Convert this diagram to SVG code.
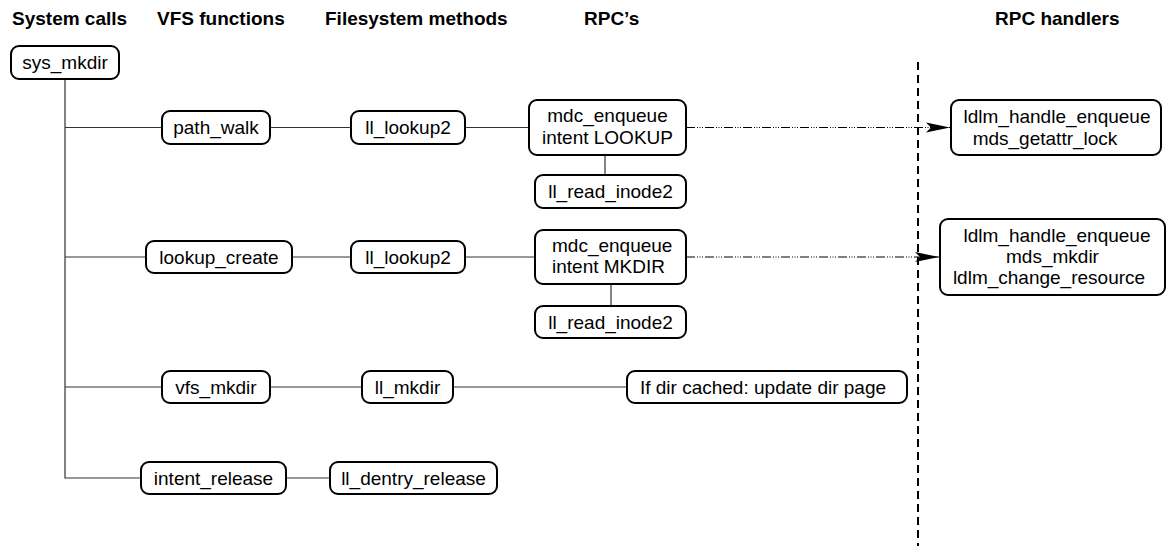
<svg xmlns="http://www.w3.org/2000/svg" width="1166" height="548" viewBox="0 0 1166 548">
<style>
.hdr{font-family:"Liberation Sans",Arial,sans-serif;font-size:19px;font-weight:bold;fill:#000}
.t{font-family:"Liberation Sans",Arial,sans-serif;font-size:19px;fill:#000}
.c{text-anchor:middle}
.box{fill:#fff;stroke:#000;stroke-width:2}
.ln{fill:none;stroke:#333;stroke-width:1.2}
.dash{fill:none;stroke:#000;stroke-width:1;stroke-dasharray:9 2 1 1.5 1 1.5 1 2}
.sep{fill:none;stroke:#000;stroke-width:2;stroke-dasharray:8 5}
</style>
<defs>
<marker id="arr" markerWidth="25" markerHeight="12" refX="24" refY="6" orient="auto" markerUnits="userSpaceOnUse">
<path d="M0,1 L24,6 L0,11 L5,6 Z" fill="#000"/>
</marker>
</defs>
<rect width="1166" height="548" fill="#fff"/>
<g id="headers">
<text class="hdr" x="12" y="25">System calls</text>
<text class="hdr" x="157" y="25">VFS functions</text>
<text class="hdr" x="325" y="25">Filesystem methods</text>
<text class="hdr" x="584" y="25">RPC’s</text>
<text class="hdr" x="995" y="25">RPC handlers</text>
</g>
<g id="connectors">
<path class="ln" d="M65,79 V478 H141"/>
<path class="ln" d="M65,127.5 H162 M270,127.5 H351 M465,127.5 H529"/>
<path class="ln" d="M65,257 H146 M292,257 H351 M465,257 H535"/>
<path class="ln" d="M65,387 H162 M270,387 H362 M453,387 H627"/>
<path class="ln" d="M286,478 H330"/>
<path class="ln" d="M605,155 V175 M611,284 V306"/>
<path class="dash" d="M686,127.5 H950" marker-end="url(#arr)"/>
<path class="dash" d="M686,257 H939" marker-end="url(#arr)"/>
<path class="sep" d="M918,62 V546"/>
</g>
<g id="sys_mkdir"><rect class="box" x="11" y="46" width="108" height="33" rx="8"/><text class="t c" x="65" y="69">sys_mkdir</text></g>
<g id="path_walk"><rect class="box" x="162" y="111" width="108" height="33" rx="8"/><text class="t c" x="216" y="134">path_walk</text></g>
<g id="ll_lookup2_a"><rect class="box" x="351" y="111" width="114" height="33" rx="8"/><text class="t c" x="408" y="134">ll_lookup2</text></g>
<g id="mdc_lookup"><rect class="box" x="529" y="100" width="157" height="55" rx="8"/><text class="t c" x="607.5" y="122">mdc_enqueue</text><text class="t c" x="607.5" y="144">intent LOOKUP</text></g>
<g id="ll_read_inode2_a"><rect class="box" x="535" y="175" width="151" height="33" rx="8"/><text class="t c" x="610.5" y="198">ll_read_inode2</text></g>
<g id="handler_a"><rect class="box" x="951" y="100" width="210" height="55" rx="8"/><text class="t c" x="1057" y="123">ldlm_handle_enqueue</text><text class="t c" x="1045" y="145">mds_getattr_lock</text></g>
<g id="lookup_create"><rect class="box" x="146" y="241" width="146" height="32" rx="8"/><text class="t c" x="219" y="263.5">lookup_create</text></g>
<g id="ll_lookup2_b"><rect class="box" x="351" y="241" width="114" height="32" rx="8"/><text class="t c" x="408" y="263.5">ll_lookup2</text></g>
<g id="mdc_mkdir"><rect class="box" x="535" y="230" width="151" height="54" rx="8"/><text class="t" x="552" y="252">mdc_enqueue</text><text class="t" x="552" y="273">intent MKDIR</text></g>
<g id="ll_read_inode2_b"><rect class="box" x="535" y="306" width="151" height="32" rx="8"/><text class="t c" x="610.5" y="328.5">ll_read_inode2</text></g>
<g id="handler_b"><rect class="box" x="940" y="219" width="225" height="76" rx="8"/><text class="t c" x="1057" y="242">ldlm_handle_enqueue</text><text class="t c" x="1052.5" y="263">mds_mkdir</text><text class="t c" x="1049" y="284">ldlm_change_resource</text></g>
<g id="vfs_mkdir"><rect class="box" x="162" y="371" width="108" height="32" rx="8"/><text class="t c" x="216" y="393.5">vfs_mkdir</text></g>
<g id="ll_mkdir"><rect class="box" x="362" y="371" width="91" height="32" rx="8"/><text class="t c" x="407.5" y="393.5">ll_mkdir</text></g>
<g id="dir_cached"><rect class="box" x="627" y="371" width="280" height="32" rx="8"/><text class="t c" x="763" y="393.5">If dir cached: update dir page</text></g>
<g id="intent_release"><rect class="box" x="141" y="462" width="145" height="32" rx="8"/><text class="t c" x="213.5" y="484.5">intent_release</text></g>
<g id="ll_dentry_release"><rect class="box" x="330" y="462" width="167" height="32" rx="8"/><text class="t c" x="413.5" y="484.5">ll_dentry_release</text></g>
</svg>
